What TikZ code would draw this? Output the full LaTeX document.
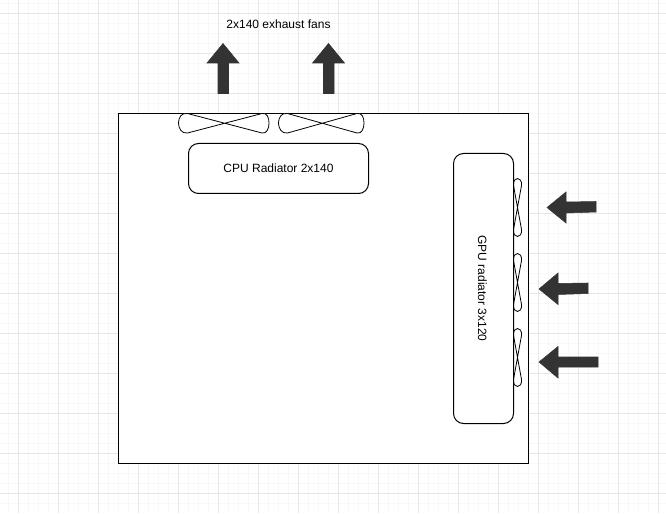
\documentclass[tikz,border=0pt]{standalone}
\usepackage{fontspec}
\setmainfont{Liberation Sans}
\definecolor{gridmajor}{HTML}{E6E6E6}
\definecolor{gridminor}{HTML}{F8F8F8}
\definecolor{arrowfill}{HTML}{333333}
\tikzset{
  outerbox/.style={draw=black,fill=white,line width=0.9pt},
  radiator/.style={draw=black,fill=white,line width=0.75pt,rounded corners=7.5pt,inner sep=0pt,font=\fontsize{9}{11}\selectfont},
  fanshape/.style={draw=black,fill=white,line width=0.6pt,line join=round},
  blockarrow/.style={fill=arrowfill,draw=arrowfill,line width=0.4pt,line join=miter},
  caption/.style={font=\fontsize{9}{11}\selectfont,inner sep=0pt},
}
% horizontal fan: left, right, top, bottom
\newcommand{\hfan}[4]{%
  \path[fanshape] (#1+9,#3) -- (#2-7,#4)
    .. controls (#2-2,#4+1) and (#2,#4-5) .. (#2,#4-10)
    .. controls (#2,#3+4) and (#2-2,#3-1) .. (#2-7,#3)
    -- (#1+9,#4)
    .. controls (#1+3,#4+1) and (#1,#4-5) .. (#1,#4-10)
    .. controls (#1,#3+4) and (#1+3,#3-1) .. (#1+9,#3) -- cycle;}
% vertical fan: left, right, top, bottom
\newcommand{\vfan}[4]{%
  \path[fanshape] (#1,#3+7) -- (#2,#4-7)
    .. controls (#2+0.5,#4-2) and (#2-2,#4) .. (#1+4,#4)
    .. controls (#1+2,#4) and (#1-0.5,#4-2) .. (#1,#4-7)
    -- (#2,#3+7)
    .. controls (#2+0.5,#3+2) and (#2-2,#3) .. (#1+4,#3)
    .. controls (#1+2,#3) and (#1-0.5,#3+2) .. (#1,#3+7) -- cycle;}
\begin{document}
\begin{tikzpicture}[x=0.75pt,y=-0.75pt]
\useasboundingbox (0,0) rectangle (666,513);
\fill[white] (0,0) rectangle (666,513);
% grid
\foreach \i in {0,...,65} {\draw[gridminor,line width=0.7pt] ({8.5+10*\i},0) -- ({8.5+10*\i},513);}
\foreach \i in {0,...,50} {\draw[gridminor,line width=0.7pt] (0,{3.5+10*\i}) -- (666,{3.5+10*\i});}
\foreach \i in {0,...,16} {\draw[gridmajor,line width=0.75pt] ({18.5+40*\i},0) -- ({18.5+40*\i},513);}
\foreach \i in {0,...,12} {\draw[gridmajor,line width=0.75pt] (0,{13.5+40*\i}) -- (666,{13.5+40*\i});}
% case
\path[outerbox] (118.5,113.5) rectangle (528.5,463.5);
% fans
\hfan{178.5}{269}{113.5}{133}
\hfan{278.5}{364}{113.5}{133}
\vfan{513.5}{521.5}{178.5}{236.5}
\vfan{513.5}{521.5}{253.5}{311.5}
\vfan{513.5}{521.5}{328.5}{386.5}
% radiators
\node[radiator,minimum width=135pt,minimum height=37.5pt] (cpu) at (278.5,168.5) {CPU Radiator 2x140};
\node[radiator,minimum width=45pt,minimum height=202.5pt] (gpu) at (483.5,288.5) {};
\node[caption,rotate=-90] (gputext) at (482.5,288.5) {GPU radiator 3x120};
% arrows
\path[blockarrow] (223,43.5) -- (239,63) -- (228.5,63) -- (228.5,93.5) -- (218,93.5) -- (218,63) -- (207,63) -- cycle;
\path[blockarrow] (328.5,43.5) -- (344.5,63) -- (334,63) -- (334,93.5) -- (323.5,93.5) -- (323.5,63) -- (312.5,63) -- cycle;
\path[blockarrow] (547,207.5) -- (566,192) -- (566,202) -- (596,201.5) -- (596,212) -- (566,213) -- (566,223) -- cycle;
\path[blockarrow] (539,289) -- (558,273) -- (558,283.5) -- (588,283) -- (588,293.5) -- (558,294.5) -- (558,304.5) -- cycle;
\path[blockarrow] (539,362) -- (558,346.5) -- (558,357) -- (598,357) -- (598,367) -- (558,367) -- (558,378) -- cycle;
% caption
\node[caption] (exhaust) at (278.5,24) {2x140 exhaust fans};
\end{tikzpicture}
\end{document}
